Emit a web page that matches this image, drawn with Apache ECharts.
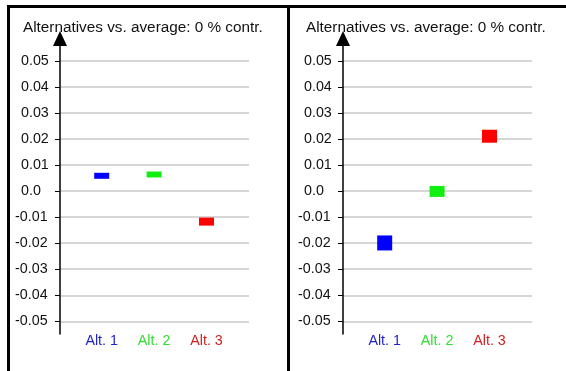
<!DOCTYPE html>
<html>
<head>
<meta charset="utf-8">
<script src="https://cdn.jsdelivr.net/npm/echarts@6/dist/echarts.min.js"></script>
<style>
  html, body { margin: 0; padding: 0; background: #fff; }
  #wrap { position: relative; width: 566px; height: 371px; overflow: hidden; }
  .panel { position: absolute; top: 0; width: 283px; height: 371px; }
  .line { position: absolute; background: #000; }
</style>
</head>
<body>
<div id="wrap">
  <div id="chartLeft" class="panel" style="left:0"></div>
  <div id="chartRight" class="panel" style="left:283px"></div>
  <div class="line" style="left:7px; top:5px; width:559px; height:3px"></div>
  <div class="line" style="left:7px; top:5px; width:3px; height:366px"></div>
  <div class="line" style="left:287px; top:5px; width:3px; height:366px"></div>
</div>
<script>
const titleText = "Alternatives vs. average: 0 % contr.";
const categories = ["Alt. 1", "Alt. 2", "Alt. 3"];
const leftValues = [0.0059, 0.0064, -0.0117];
const rightValues = [-0.0199, -0.0001, 0.0211];
const yMin = -0.05;
const yMax = 0.05;
const yStep = 0.01;

// styling
const markerColors = ["#0000ff", "#11ee11", "#ff0000"];
const labelColors = ["#2222cc", "#33dd33", "#cc2222"];
const leftMarkerHeights = [6, 6, 8];
const rightMarkerHeights = [15, 11, 13];
const FONT = "'Liberation Sans', Arial, sans-serif";

function tickLabel(v) {
    const r = Math.round(v * 100) / 100;
    if (r === 0) return "{pad|}0.0";
    if (r < 0) return "-" + Math.abs(r).toFixed(2);
    return "{pad|}" + r.toFixed(2);
}

function makePanel(domId, values, heights) {
    const chart = echarts.init(document.getElementById(domId), null, { renderer: "canvas" });

    const option = {
        animation: false,
        title: {
            text: titleText,
            left: 18,
            top: 15,
            textStyle: { fontFamily: FONT, fontSize: 15.3, fontWeight: "normal", color: "#111" },
        },
        grid: [
            // gridlines + tick labels
            { left: 60, top: 61, width: 189, height: 260.3 },
            // categories
            { left: 75.5, top: 61, width: 157.2, height: 260.3 },
            // tall axis line with arrow
            { left: 60, top: 38.5, width: 189, height: 295.5 },
        ],
        xAxis: [
            { gridIndex: 0, type: "value", show: false },
            {
                gridIndex: 1,
                type: "category",
                data: categories,
                boundaryGap: true,
                axisLine: { show: false, onZero: false },
                axisTick: { show: false },
                axisLabel: {
                    margin: 13,
                    fontFamily: FONT,
                    fontSize: 14.3,
                    color: (val, idx) => labelColors[idx],
                },
            },
            { gridIndex: 2, type: "value", show: false },
        ],
        yAxis: [
            {
                gridIndex: 0,
                type: "value",
                min: yMin,
                max: yMax,
                interval: yStep,
                axisLine: { show: false },
                axisTick: { show: true, length: 5, lineStyle: { color: "#000", width: 1 } },
                axisLabel: {
                    align: "left",
                    margin: 45,
                    fontFamily: FONT,
                    fontSize: 14.3,
                    color: "#111",
                    formatter: tickLabel,
                    rich: { pad: { width: 6 } },
                },
                splitLine: { lineStyle: { color: "#c8c8c8", width: 1.5 } },
            },
            {
                gridIndex: 1,
                type: "value",
                min: yMin,
                max: yMax,
                show: false,
            },
            {
                gridIndex: 2,
                type: "value",
                axisLine: {
                    show: true,
                    symbol: ["none", "triangle"],
                    symbolSize: [14, 15],
                    lineStyle: { color: "#000", width: 1.5 },
                },
                axisTick: { show: false },
                axisLabel: { show: false },
                splitLine: { show: false },
            },
        ],
        series: [
            {
                type: "scatter",
                xAxisIndex: 1,
                yAxisIndex: 1,
                symbol: "rect",
                data: values.map((v, i) => ({
                    value: [categories[i], v],
                    symbolSize: [15, heights[i]],
                    itemStyle: { color: markerColors[i], opacity: 1 },
                })),
            },
        ],
    };

    chart.setOption(option);
    return chart;
}

makePanel("chartLeft", leftValues, leftMarkerHeights);
makePanel("chartRight", rightValues, rightMarkerHeights);
</script>
</body>
</html>
